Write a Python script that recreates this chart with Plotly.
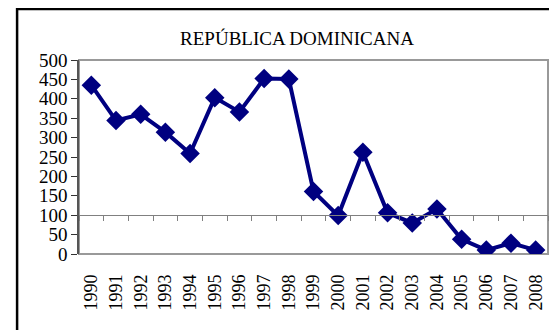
"""
Serie anual - Republica Dominicana
"""

import plotly.graph_objects as go

years = [str(y) for y in range(1990, 2009)]
values = [435, 344, 360, 314, 259, 403, 366, 452, 451, 161,
          99, 262, 106, 80, 116, 38, 10, 28, 10]
y_ticks = list(range(0, 501, 50))

serif = 'Liberation Serif, Times New Roman, serif'
navy = '#000080'

# page body has an 8px margin, so the figure is shrunk by that much
W, H, off = 557, 330, 8

fig = go.Figure()

# dummy trace so the label axis has categories
fig.add_trace(go.Scatter(x=years, y=values, xaxis='x2', mode='lines',
                         line=dict(color='rgba(0,0,0,0)'),
                         hoverinfo='skip', showlegend=False))

fig.add_trace(go.Scatter(
    x=years, y=values, mode='lines+markers',
    line=dict(color=navy, width=4),
    marker=dict(symbol='diamond', size=15, color=navy),
    showlegend=False))

#> plot area border + outer frame
fig.add_shape(type='rect', xref='paper', yref='paper', x0=0, x1=1, y0=0, y1=1,
              line=dict(color='#999999', width=2), layer='below')
fig.add_shape(type='rect', xref='paper', yref='paper',
              x0=-0.132, x1=1.1, y0=-1, y1=1.263,
              line=dict(color='black', width=2.5))

fig.update_layout(
    width=W - off, height=H - off,
    margin=dict(l=79 - off, r=9, t=60 - off, b=76, autoexpand=False),
    paper_bgcolor='white', plot_bgcolor='white',
    font=dict(family=serif, color='black', size=18),
    title=dict(text='REPÚBLICA DOMINICANA', x=(297 - off) / (W - off),
               xanchor='center', y=1 - (38 - off) / (H - off), yanchor='middle',
               xref='container', yref='container',
               font=dict(family=serif, size=19, color='black')),
    # category axis crossing at 100
    xaxis=dict(type='category', range=[-0.5, 18.5], anchor='free', position=0.2,
               showline=True, linecolor='#808080', linewidth=1,
               ticks='outside', tickson='boundaries', ticklen=5,
               tickcolor='#808080', showticklabels=False, showgrid=False,
               zeroline=False),
    # year labels at the bottom
    xaxis2=dict(type='category', range=[-0.5, 18.5], overlaying='x', anchor='y',
                side='bottom', showline=False, ticks='', tickangle=-90,
                ticklabelstandoff=16, showgrid=False, zeroline=False,
                tickfont=dict(family=serif, size=18, color='black')),
    yaxis=dict(range=[0, 500], tickvals=y_ticks, ticks='outside', ticklen=6,
               tickcolor='#333333', showline=True, linecolor='#555555',
               linewidth=1.5, showgrid=False, zeroline=False,
               tickfont=dict(family=serif, size=19, color='black')),
)

fig.write_html("out.html")
